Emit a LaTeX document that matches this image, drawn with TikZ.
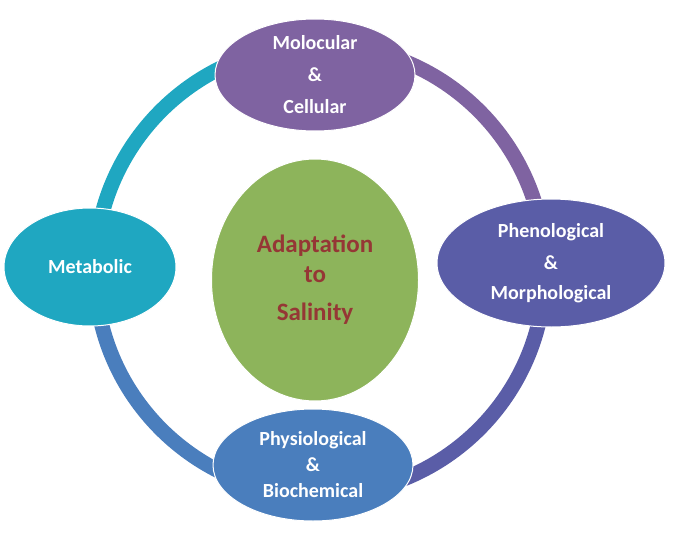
\documentclass[tikz,border=0pt]{standalone}
\usepackage{fontspec}
\setmainfont{Carlito}
\usetikzlibrary{shapes.geometric, positioning}
\definecolor{cMol}{HTML}{7F63A1}
\definecolor{cPhe}{HTML}{5A5DA7}
\definecolor{cPhy}{HTML}{4A7EBD}
\definecolor{cMet}{HTML}{1FA7C1}
\definecolor{cAda}{HTML}{8DB45B}
\definecolor{cTxt}{HTML}{953735}
\begin{document}
\begin{tikzpicture}[
      x=1pt, y=-1pt,
      stage/.style={
          ellipse,
          draw=white,
          line width=1pt,
          align=center,
          text=white,
          font=\bfseries\fontsize{20}{26}\selectfont,
          minimum width=200pt,
          minimum height=112pt,
          inner sep=0pt
        },
      ring/.style={
          line width=15pt
        }
    ]
    \useasboundingbox (0,0) rectangle (685,535);

    % Ring
    \draw[ring, cMet] (95,270) arc[start angle=180, end angle=270, radius=225];
    \draw[ring, cMol] (320,45) arc[start angle=270, end angle=360, radius=225];
    \draw[ring, cPhe] (545,270) arc[start angle=0, end angle=90, radius=225];
    \draw[ring, cPhy] (320,495) arc[start angle=90, end angle=180, radius=225];

    % Nodes
    \node[stage, fill=cMol] (mol) at (315,75) {Molocular\\[6pt]\&\\[6pt]Cellular};
    \node[stage, fill=cPhe, minimum width=228pt, minimum height=128pt] (phe) at (551,263) {Phenological\\[6pt]\&\\[4pt]Morphological};
    \node[stage, fill=cPhy] (phy) at (313,465) {Physiological\\\&\\Biochemical};
    \node[stage, fill=cMet, minimum width=172pt, minimum height=118pt] (met) at (90,267) {Metabolic};
    \node[stage, fill=cAda, text=cTxt, font=\bfseries\fontsize{25}{30}\selectfont,
          minimum width=207pt, minimum height=242pt] (ada) at (315,280) {Adaptation\\to\\[8pt]Salinity};

  \end{tikzpicture}
\end{document}
